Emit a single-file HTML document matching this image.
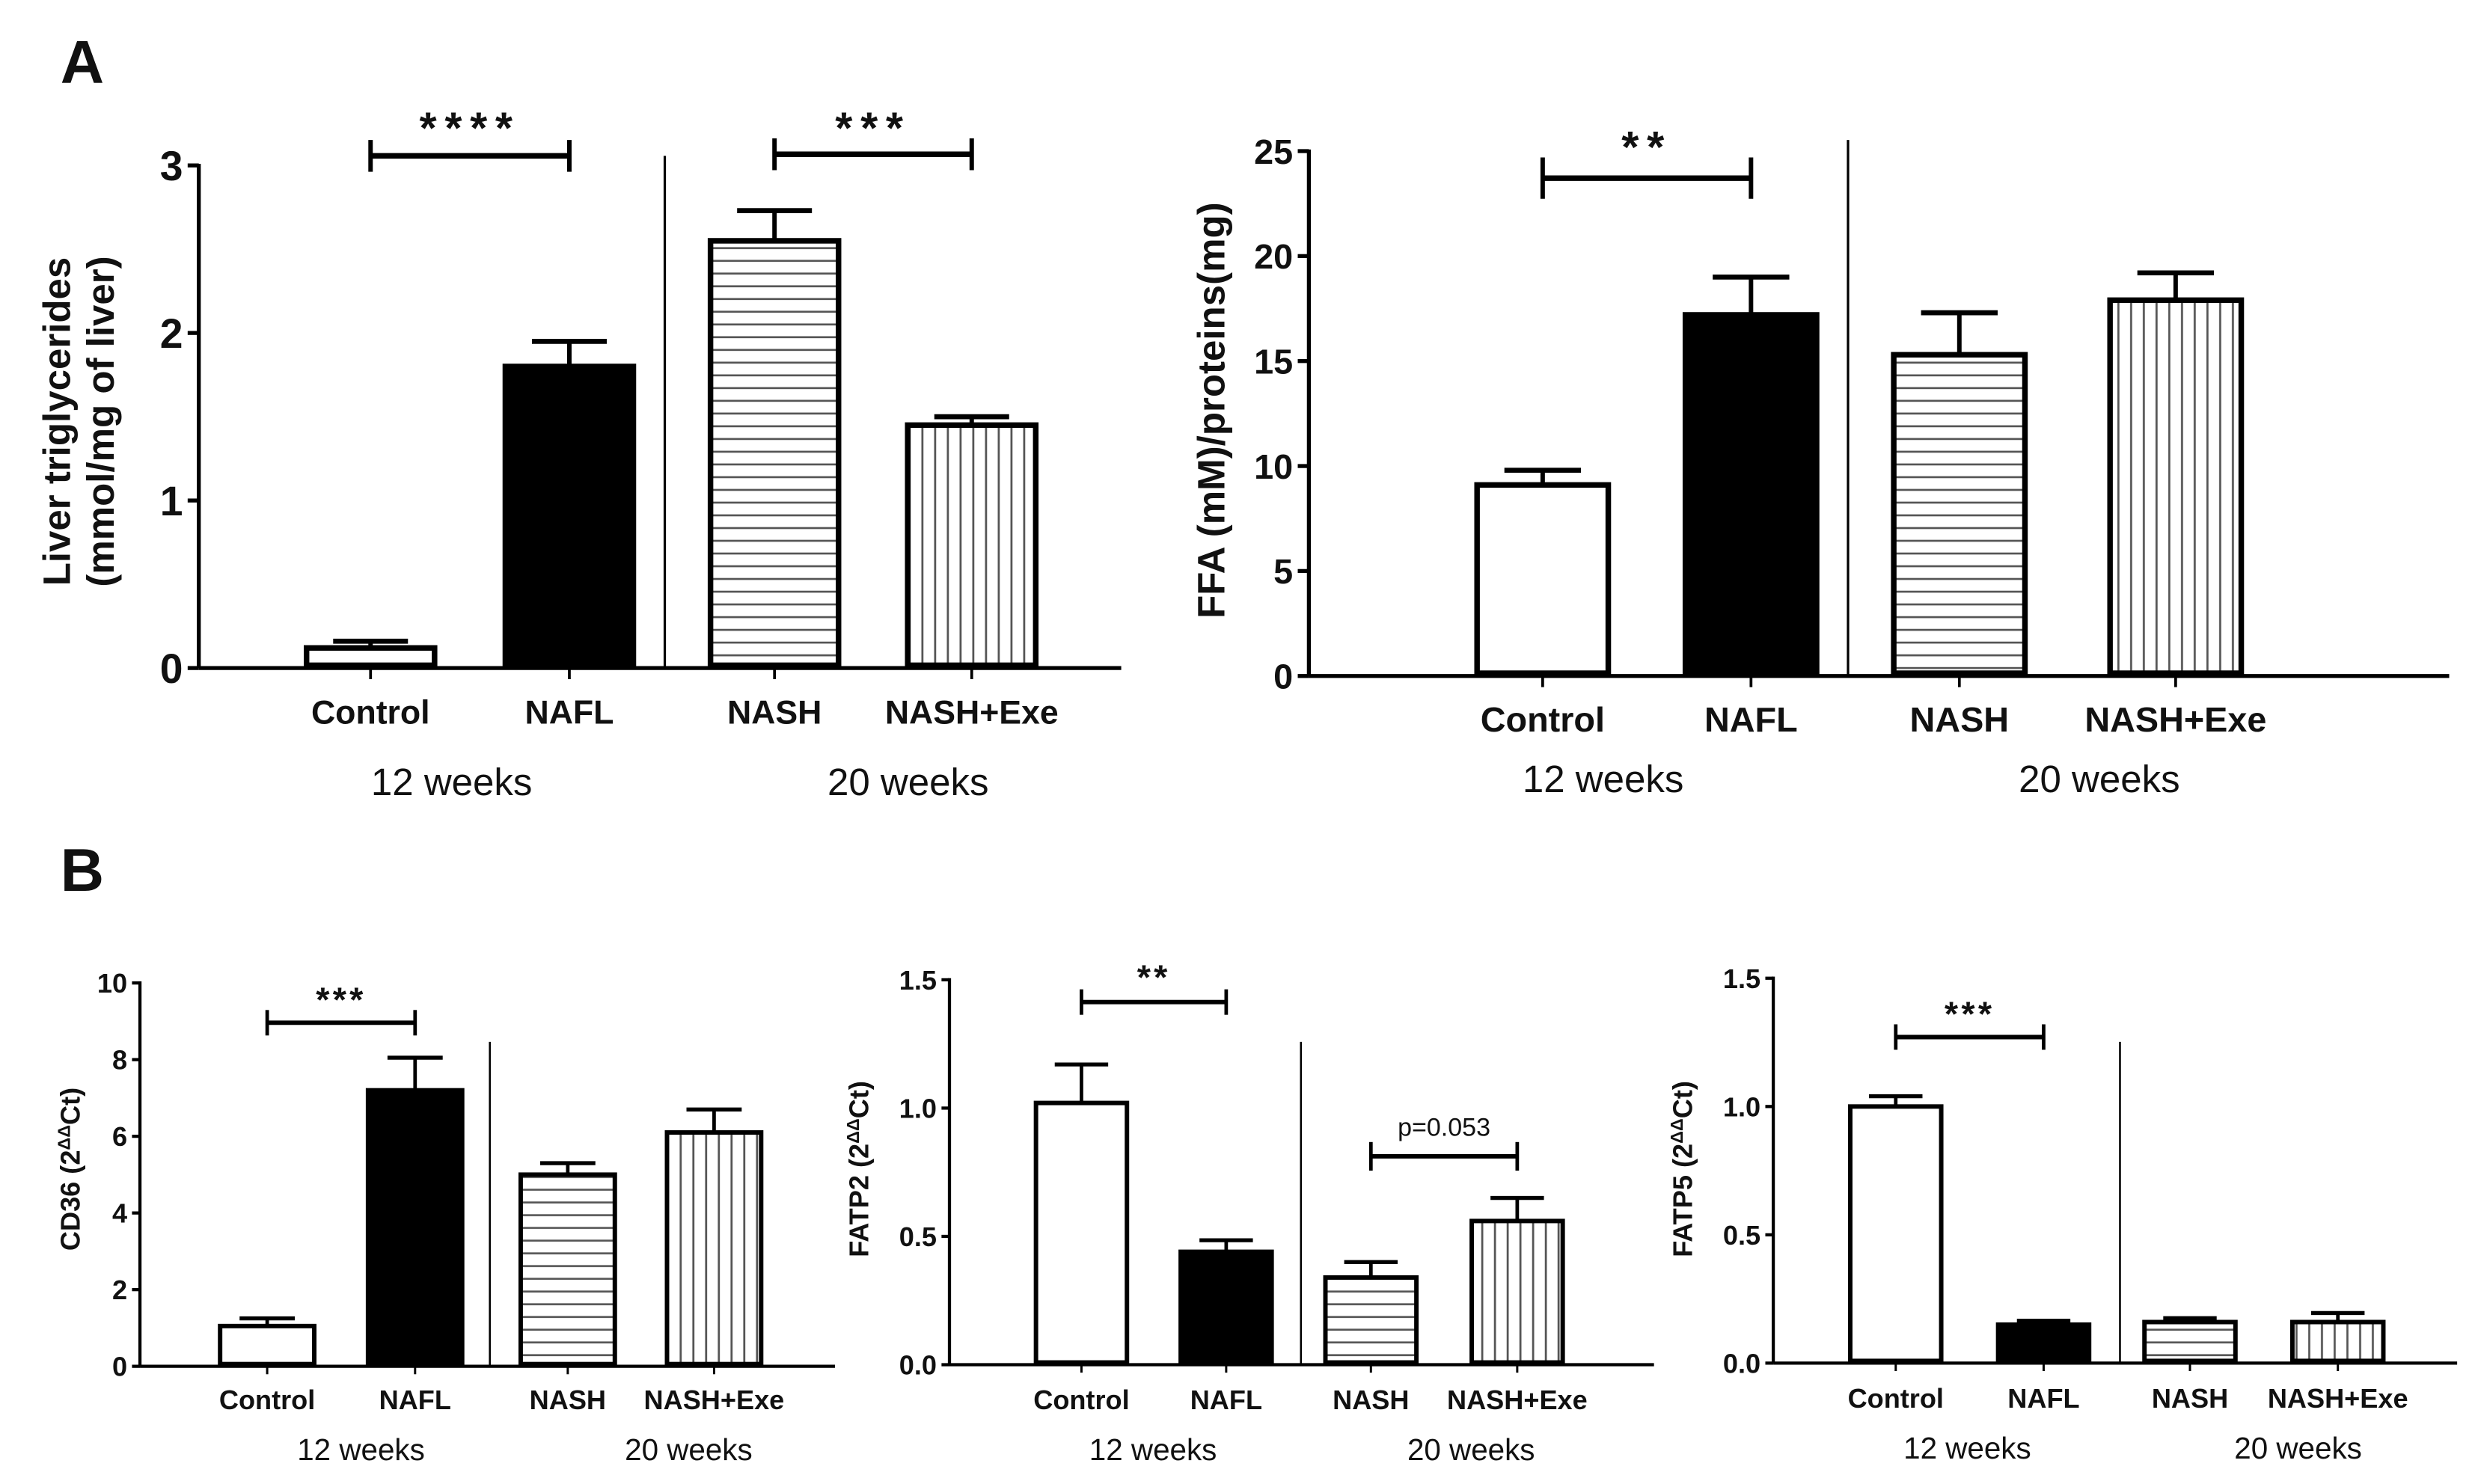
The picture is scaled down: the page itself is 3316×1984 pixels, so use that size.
<!DOCTYPE html>
<html><head><meta charset="utf-8"><style>
html,body{margin:0;padding:0;background:#fff}
svg{display:block}
text{font-family:"Liberation Sans",Arial,sans-serif;fill:#111}
</style></head><body>
<svg id="fig" width="3316" height="1984" viewBox="0 0 1560 933" preserveAspectRatio="none" xmlns="http://www.w3.org/2000/svg">
<defs>
<pattern id="hstripe" patternUnits="userSpaceOnUse" width="8" height="8"><rect width="8" height="8" fill="#fff"/><line x1="0" y1="4" x2="8" y2="4" stroke="#555" stroke-width="1.3"/></pattern>
<pattern id="vstripe" patternUnits="userSpaceOnUse" width="8" height="8"><rect width="8" height="8" fill="#fff"/><line x1="4" y1="0" x2="4" y2="8" stroke="#555" stroke-width="1.3"/></pattern>
</defs>
<text x="38" y="52" font-size="38" font-weight="bold">A</text>
<text x="38" y="560" font-size="38" font-weight="bold">B</text>
</svg>
<script>
// Shared categories
const categories = ["Control","NAFL","NASH","NASH+Exe"];
const groupLabels = ["12 weeks","20 weeks"];
// Chart A1: liver triglycerides
const tgValues = [0.12, 1.8, 2.55, 1.45];
const tgErrors = [0.04, 0.15, 0.18, 0.05];
const tgTicks = [0,1,2,3];
// Chart A2: FFA
const ffaValues = [9.1, 17.2, 15.3, 17.9];
const ffaErrors = [0.7, 1.8, 2.0, 1.3];
const ffaTicks = [0,5,10,15,20,25];
// Chart B1: CD36
const cd36Values = [1.05, 7.2, 5.0, 6.1];
const cd36Errors = [0.2, 0.85, 0.3, 0.6];
const cd36Ticks = [0,2,4,6,8,10];
// Chart B2: FATP2
const fatp2Values = [1.02, 0.44, 0.34, 0.56];
const fatp2Errors = [0.15, 0.045, 0.06, 0.09];
const fatp2Ticks = ["0.0","0.5","1.0","1.5"];
// Chart B3: FATP5
const fatp5Values = [1.0, 0.15, 0.16, 0.16];
const fatp5Errors = [0.04, 0.015, 0.015, 0.035];
const fatp5Ticks = ["0.0","0.5","1.0","1.5"];

const NS="http://www.w3.org/2000/svg";
const svg=document.getElementById('fig');
function mk(tag,attrs,parent){const e=document.createElementNS(NS,tag);for(const k in attrs)e.setAttribute(k,attrs[k]);(parent||svg).appendChild(e);return e;}
const fills=["#fff","#000","url(#hstripe)","url(#vstripe)"];

function chart(cfg){
  const g=mk('g',{});
  
  
  const tv=cfg.ticks.map(Number), ymax=tv[tv.length-1];
  const y=v=>cfg.y0-(v/ymax)*(cfg.y0-cfg.ytop);
  const sw=cfg.sw;
  const ya=mk('line',{x1:cfg.ax,y1:cfg.ytop-1,x2:cfg.ax,y2:cfg.y0,stroke:'#000','stroke-width':sw},g);
  
  
  cfg.ticks.forEach((t,i)=>{
    mk('line',{x1:cfg.ax-cfg.tl,y1:y(tv[i]),x2:cfg.ax,y2:y(tv[i]),stroke:'#000','stroke-width':sw},g);
    const tx=mk('text',{x:cfg.ax-cfg.tl-3,y:y(tv[i])+cfg.tfs*0.36,'font-size':cfg.tfs,'font-weight':'bold','text-anchor':'end'},g);
    tx.textContent=t;
    
    
  });
  const xa=mk('line',{x1:cfg.ax,y1:cfg.y0,x2:cfg.xend,y2:cfg.y0,stroke:'#000','stroke-width':sw},g);
  
  
  const dv=mk('line',{x1:cfg.div,y1:cfg.divTop,x2:cfg.div,y2:cfg.y0,stroke:'#000','stroke-width':sw*0.6},g);
  
  
  cfg.values.forEach((v,i)=>{
    const cx=cfg.centers[i], w=cfg.bw, bsw=cfg.bsw;
    const top=y(v), etop=y(v+cfg.errors[i]);
    const el=mk('line',{x1:cx,y1:top,x2:cx,y2:etop,stroke:'#000','stroke-width':bsw*0.8},g);
    
    
    const cap=mk('line',{x1:cx-w*0.28,y1:etop,x2:cx+w*0.28,y2:etop,stroke:'#000','stroke-width':bsw*0.9},g);
    
    
    const r=mk('rect',{x:cx-w/2+bsw/2,y:top,width:w-bsw,height:Math.max(cfg.y0-top-bsw/2,0.5),fill:fills[i],stroke:'#000','stroke-width':bsw},g);
    
    
    mk('line',{x1:cx,y1:cfg.y0,x2:cx,y2:cfg.y0+cfg.tl,stroke:'#000','stroke-width':sw*0.7},g);
    const lt=mk('text',{x:cx,y:cfg.labY,'font-size':cfg.lfs,'font-weight':'bold','text-anchor':'middle'},g);
    lt.textContent=categories[i];
    
    
  });
  groupLabels.forEach((s,i)=>{
    const t=mk('text',{x:cfg.grpX[i],y:cfg.grpY,'font-size':cfg.gfs,'text-anchor':'middle'},g);
    t.textContent=s;
    
    
  });
  cfg.brackets.forEach(b=>{
    const x1=cfg.centers[b.a], x2=cfg.centers[b.b];
    const bg=mk('g',{},g);
    
    
    mk('line',{x1:x1,y1:b.y,x2:x2,y2:b.y,stroke:'#000','stroke-width':cfg.bsw},bg);
    mk('line',{x1:x1,y1:b.y-b.h,x2:x1,y2:b.y+b.h,stroke:'#000','stroke-width':cfg.bsw*0.8},bg);
    mk('line',{x1:x2,y1:b.y-b.h,x2:x2,y2:b.y+b.h,stroke:'#000','stroke-width':cfg.bsw*0.8},bg);
    const st=mk('text',{x:(x1+x2)/2,y:b.ty,'font-size':b.fs,'font-weight':b.bold?'bold':'normal','text-anchor':'middle','letter-spacing':b.ls||0},bg);
    st.textContent=b.text;
  });
  const yl=mk('text',{transform:`translate(${cfg.ylx},${cfg.yly}) rotate(-90)`,'font-size':cfg.ylfs,'font-weight':'bold','text-anchor':'middle'},g);
  
  
  cfg.ylabel.forEach((line,i)=>{
    const ts=mk('tspan',{x:0,dy:i===0?0:cfg.ylfs*1.15},yl);
    ts.innerHTML=line;
  });
}

chart({name:'chart-liver-triglycerides',values:tgValues,errors:tgErrors,ticks:tgTicks,ax:125,y0:420,ytop:104,xend:705,tl:7,tfs:26,sw:2.5,
 centers:[233,358,487,611],bw:84,bsw:3.5,div:418,divTop:98,labY:455,lfs:21,grpX:[284,571],grpY:500,gfs:24,
 brackets:[{a:0,b:1,y:98,h:10,ty:90,text:'****',fs:28,bold:true,ls:5},{a:2,b:3,y:97,h:10,ty:90,text:'***',fs:28,bold:true,ls:5}],
 ylx:44,yly:265,ylfs:24,ylabel:['Liver triglycerides','(mmol/mg of liver)']});
chart({name:'chart-ffa',values:ffaValues,errors:ffaErrors,ticks:ffaTicks,ax:823,y0:425,ytop:95,xend:1540,tl:7,tfs:22,sw:2.5,
 centers:[970,1101,1232,1368],bw:86,bsw:3.5,div:1162,divTop:88,labY:460,lfs:22,grpX:[1008,1320],grpY:498,gfs:24,
 brackets:[{a:0,b:1,y:112,h:13,ty:102,text:'**',fs:28,bold:true,ls:5}],
 ylx:770,yly:258,ylfs:24,ylabel:['FFA  (mM)/proteins(mg)']});
chart({name:'chart-cd36',values:cd36Values,errors:cd36Errors,ticks:cd36Ticks,ax:88,y0:859,ytop:618,xend:525,tl:5,tfs:17,sw:2,
 centers:[168,261,357,449],bw:62,bsw:2.8,div:308,divTop:655,labY:886,lfs:17,grpX:[227,433],grpY:918,gfs:19,
 brackets:[{a:0,b:1,y:643,h:8,ty:636,text:'***',fs:22,bold:true,ls:2}],
 ylx:50,yly:735,ylfs:17,ylabel:['CD36 (2<tspan dy="-6" font-size="11">ΔΔ</tspan><tspan dy="6">Ct)</tspan>']});
chart({name:'chart-fatp2',values:fatp2Values,errors:fatp2Errors,ticks:fatp2Ticks,ax:597,y0:858,ytop:616,xend:1040,tl:5,tfs:17,sw:2,
 centers:[680,771,862,954],bw:60,bsw:2.8,div:818,divTop:655,labY:886,lfs:17,grpX:[725,925],grpY:918,gfs:19,
 brackets:[{a:0,b:1,y:630,h:8,ty:622,text:'**',fs:22,bold:true,ls:2},{a:2,b:3,y:727,h:9,ty:714,text:'p=0.053',fs:16,bold:false}],
 ylx:546,yly:735,ylfs:17,ylabel:['FATP2 (2<tspan dy="-6" font-size="11">ΔΔ</tspan><tspan dy="6">Ct)</tspan>']});
chart({name:'chart-fatp5',values:fatp5Values,errors:fatp5Errors,ticks:fatp5Ticks,ax:1115,y0:857,ytop:615,xend:1545,tl:5,tfs:17,sw:2,
 centers:[1192,1285,1377,1470],bw:60,bsw:2.8,div:1333,divTop:655,labY:885,lfs:17,grpX:[1237,1445],grpY:917,gfs:19,
 brackets:[{a:0,b:1,y:652,h:8,ty:645,text:'***',fs:22,bold:true,ls:2}],
 ylx:1064,yly:735,ylfs:17,ylabel:['FATP5 (2<tspan dy="-6" font-size="11">ΔΔ</tspan><tspan dy="6">Ct)</tspan>']});
</script>
</body></html>
